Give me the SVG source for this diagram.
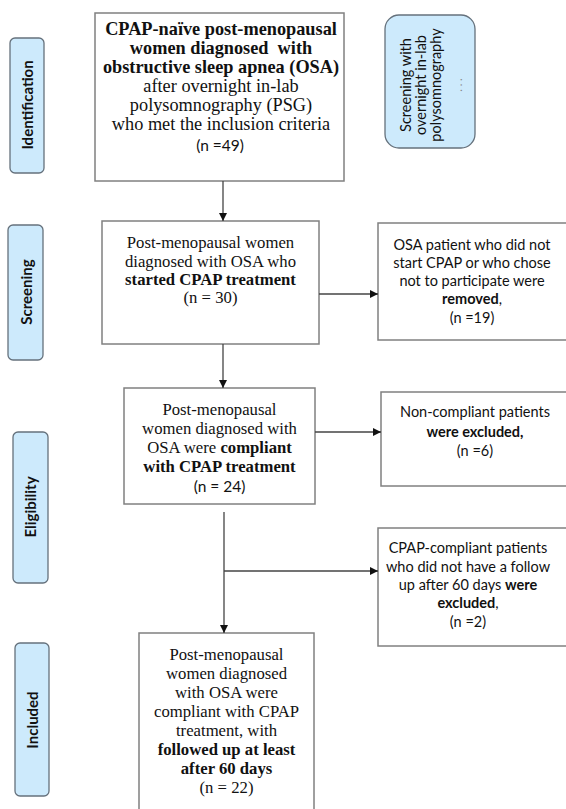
<svg xmlns="http://www.w3.org/2000/svg" width="566" height="809" viewBox="0 0 566 809">
<defs>
<marker id="ah" viewBox="0 0 10 10" refX="10" refY="5" markerWidth="8" markerHeight="8" markerUnits="userSpaceOnUse" orient="auto">
<path d="M0,0 L10,5 L0,10 z" fill="#111"/>
</marker>
<style>
.box{fill:#fff;stroke:#808080;stroke-width:1.5}
.lab{fill:#cdeafc;stroke:#65717c;stroke-width:1.3}
.con{fill:none;stroke:#444;stroke-width:1.3}
.sf{font-family:"Liberation Serif","Times New Roman",serif;font-size:16.7px;fill:#111;text-anchor:middle}
.big{font-size:18.3px}
.ss{font-family:Lato,"Liberation Sans",sans-serif;font-size:14.5px;fill:#111;text-anchor:middle}
.lt{font-family:Lato,"Liberation Sans",sans-serif;font-size:15px;font-weight:bold;fill:#111;text-anchor:middle}
.b{font-weight:bold}
</style>
</defs>
<rect width="566" height="809" fill="#fff"/>

<g id="lab-identification"><rect class="lab" x="10" y="38" width="34" height="135" rx="5"/><text class="lt" transform="translate(32.5,105) rotate(-90)">Identification</text></g>
<g id="lab-screening"><rect class="lab" x="8" y="225" width="35" height="135" rx="5"/><text class="lt" transform="translate(31.5,292) rotate(-90)">Screening</text></g>
<g id="lab-eligibility"><rect class="lab" x="13" y="432" width="35" height="151" rx="5"/><text class="lt" transform="translate(35.5,507) rotate(-90)">Eligibility</text></g>
<g id="lab-included"><rect class="lab" x="15" y="643" width="34" height="153" rx="5"/><text class="lt" transform="translate(37.5,720) rotate(-90)">Included</text></g>

<g id="psg-note"><rect class="lab" x="385" y="15" width="90" height="133" rx="14"/>
<g transform="translate(396,85) rotate(-90)"><text class="ss" style="font-size:14.5px"><tspan x="0" y="15">Screening with</tspan><tspan x="0" y="30">overnight in-lab</tspan><tspan x="0" y="45">polysomnography</tspan><tspan x="0" y="66" fill="#888" font-size="11">. . .</tspan></text></g></g>

<g id="n-identified"><rect class="box" x="95" y="13" width="249" height="168"/>
<text class="sf big"><tspan class="b" x="221" y="35">CPAP-naïve post-menopausal</tspan><tspan class="b" x="221" y="54" style="white-space:pre">women diagnosed  with</tspan><tspan class="b" x="221" y="73">obstructive sleep apnea (OSA)</tspan><tspan x="221" y="92">after overnight in-lab</tspan><tspan x="221" y="111">polysomnography (PSG)</tspan><tspan x="221" y="130">who met the inclusion criteria</tspan></text>
<text class="ss" style="font-size:15.5px" x="220" y="151">(n =49)</text></g>

<g id="n-started"><rect class="box" x="102" y="221" width="217" height="123"/>
<text class="sf"><tspan x="210.5" y="248">Post-menopausal women</tspan><tspan x="210.5" y="267">diagnosed with OSA who</tspan><tspan class="b" x="210.5" y="285">started CPAP treatment</tspan><tspan x="210.5" y="303">(n = 30)</tspan></text></g>

<g id="n-removed"><rect class="box" x="378" y="223" width="200" height="117"/>
<text class="ss"><tspan x="472" y="250">OSA patient who did not</tspan><tspan x="472" y="268">start CPAP or who chose</tspan><tspan x="472" y="286">not to participate were</tspan><tspan x="472" y="304"><tspan class="b">removed</tspan>,</tspan><tspan x="472" y="323">(n =19)</tspan></text></g>

<g id="n-compliant"><rect class="box" x="124" y="388" width="191" height="116"/>
<text class="sf"><tspan x="219.5" y="415">Post-menopausal</tspan><tspan x="219.5" y="434">women diagnosed with</tspan><tspan x="219.5" y="453">OSA were <tspan class="b">compliant</tspan></tspan><tspan class="b" x="219.5" y="472">with CPAP treatment</tspan></text>
<text class="ss" style="font-size:15.5px" x="219.5" y="492">(n = 24)</text></g>

<g id="n-noncompliant"><rect class="box" x="381" y="392" width="200" height="94"/>
<text class="ss"><tspan x="475" y="417">Non-compliant patients</tspan><tspan class="b" x="475" y="437">were excluded,</tspan><tspan x="475" y="456">(n =6)</tspan></text></g>

<g id="n-nofollowup"><rect class="box" x="378" y="528" width="200" height="118"/>
<text class="ss"><tspan x="468" y="553">CPAP-compliant patients</tspan><tspan x="468" y="572">who did not have a follow</tspan><tspan x="468" y="590">up after 60 days <tspan class="b">were</tspan></tspan><tspan x="468" y="608"><tspan class="b">excluded</tspan>,</tspan><tspan x="468" y="627">(n =2)</tspan></text></g>

<g id="n-included"><rect class="box" x="139" y="633" width="175" height="190"/>
<text class="sf"><tspan x="226.5" y="660">Post-menopausal</tspan><tspan x="226.5" y="679">women diagnosed</tspan><tspan x="226.5" y="698">with OSA were</tspan><tspan x="226.5" y="717">compliant with CPAP</tspan><tspan x="226.5" y="736">treatment, with</tspan><tspan class="b" x="226.5" y="755">followed up at least</tspan><tspan class="b" x="226.5" y="774">after 60 days</tspan><tspan x="226.5" y="793">(n = 22)</tspan></text></g>

<g id="connectors">
<line class="con" x1="223" y1="181" x2="223" y2="221" marker-end="url(#ah)"/>
<line class="con" x1="319" y1="294" x2="378" y2="294" marker-end="url(#ah)"/>
<line class="con" x1="223" y1="344" x2="223" y2="388" marker-end="url(#ah)"/>
<line class="con" x1="315" y1="432" x2="381" y2="432" marker-end="url(#ah)"/>
<line class="con" x1="224" y1="512" x2="224" y2="633" marker-end="url(#ah)"/>
<line class="con" x1="224" y1="571" x2="378" y2="571" marker-end="url(#ah)"/>
</g>
</svg>
